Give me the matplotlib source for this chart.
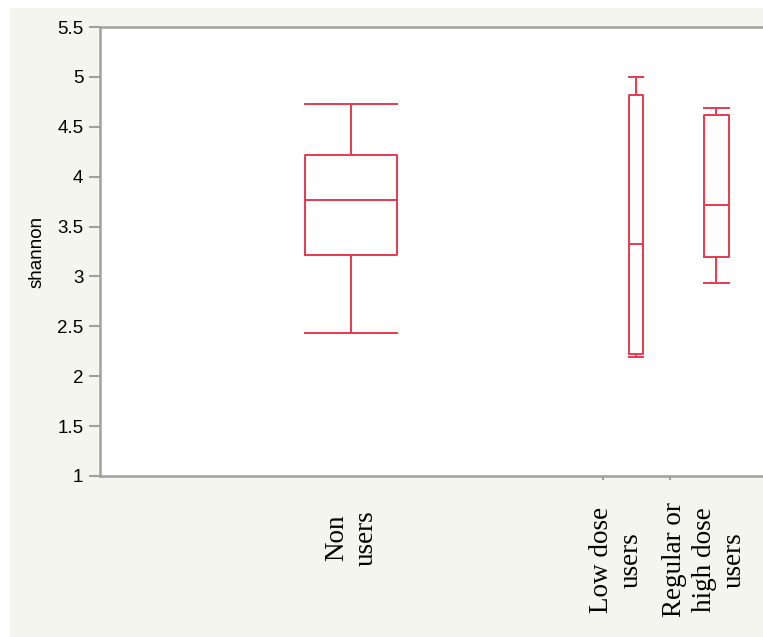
import matplotlib.pyplot as plt
from matplotlib.patches import Rectangle

# group summaries (shannon index)
groups = ["Non\nusers", "Low dose\nusers", "Regular or\nhigh dose\nusers"]
n_obs = [15, 2, 3]
whisker_lo = [2.43, 2.19, 2.93]
q1 = [3.21, 2.22, 3.19]
med = [3.77, 3.33, 3.72]
q3 = [4.22, 4.82, 4.62]
whisker_hi = [4.73, 5.00, 4.69]

yticks = [1, 1.5, 2, 2.5, 3, 3.5, 4, 4.5, 5, 5.5]

red = "#e8384f"
grey = "#a0a0a0"

fig = plt.figure(figsize=(7.63, 6.37), dpi=100)
fig.patch.set_facecolor("white")
fig.patches.append(Rectangle((10 / 763, 0), 1, 1 - 8 / 637, transform=fig.transFigure,
                             facecolor="#f5f5f0", edgecolor="none", zorder=-10))

ax = fig.add_axes([100 / 763, 161 / 637, 670 / 763, 449 / 637])
ax.set_facecolor("white")

# variable width layout: each group gets a slot proportional to its n
edges = [0]
for n in n_obs:
    edges.append(edges[-1] + n)
centers = [(edges[i] + edges[i + 1]) / 2 for i in range(len(n_obs))]
centers[2] -= 0.1
widths = [2.76, 0.42, 0.75]

stats = []
for i in range(len(groups)):
    stats.append(dict(whislo=whisker_lo[i], q1=q1[i], med=med[i], q3=q3[i],
                      whishi=whisker_hi[i], fliers=[]))

lp = dict(color=red, linewidth=1.4)
ax.bxp(stats, positions=centers, widths=widths, capwidths=widths,
       boxprops=lp, whiskerprops=lp, capprops=lp, medianprops=lp,
       showfliers=False, manage_ticks=False)

ax.set_xlim(edges[0], edges[-1])
ax.set_ylim(1, 5.5)
ax.set_yticks(yticks)
ax.set_yticklabels([f"{v:g}" for v in yticks])
ax.set_xticks(edges[1:-1])
ax.set_xticklabels([])
ax.tick_params(axis="x", length=3, width=1.5, color=grey)
ax.tick_params(axis="y", length=8, width=1.5, color=grey, pad=4,
               labelsize=13.5)
for lab in ax.get_yticklabels():
    lab.set_family("Liberation Sans")

for side in ["top", "left", "bottom", "right"]:
    ax.spines[side].set_color(grey)
    ax.spines[side].set_linewidth(1.8)

ax.set_ylabel("shannon", family="Liberation Sans", fontsize=13.5, labelpad=8)

label_x = [7.5, 15.4, 18.05]
label_y = [-0.138, -0.187, -0.187]
for i, g in enumerate(groups):
    ax.text(label_x[i], label_y[i], g, transform=ax.get_xaxis_transform(),
            rotation=90, ha="center", va="center", multialignment="center",
            family="Liberation Serif", fontsize=19.5, linespacing=1.25)

fig.savefig("out.png", dpi=100)
